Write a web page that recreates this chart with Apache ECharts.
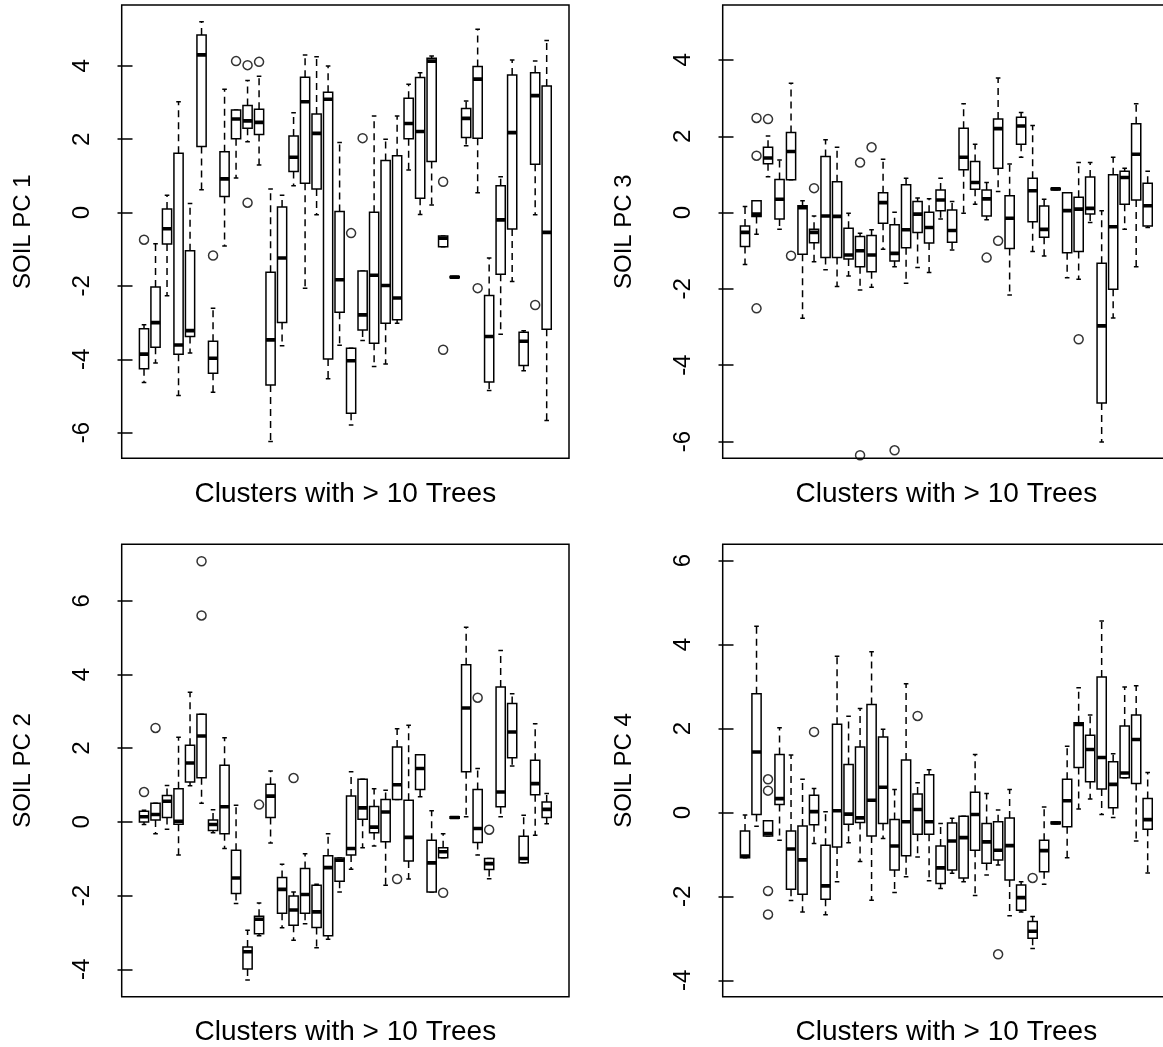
<!DOCTYPE html>
<html><head><meta charset="utf-8">
<script src="https://cdn.jsdelivr.net/npm/echarts@6/dist/echarts.min.js"></script>
<style>html,body{margin:0;padding:0;background:#fff}#c{width:1163px;height:1047px}</style>
</head><body><div id="c"></div>
<script>
// ---------- data ----------
const clusters = [1,2,3,4,5,6,7,8,9,10,11,12,13,14,15,16,17,18,19,20,21,22,23,24,25,26,27,28,29,30,31,32,33,34,35,36];

// SOIL PC 1 (top-left)
const pc1Low = [-4.63,-4.10,-2.27,-4.99,-3.83,0.62,-4.90,-0.91,0.94,1.93,1.30,-6.24,-3.63,0.73,-2.06,-0.06,-4.53,-3.62,-5.79,-3.49,-4.20,-4.13,-3.02,1.16,-0.05,0.21,-0.93,-1.78,1.82,0.54,-4.85,-3.32,-1.88,-4.31,-0.06,-5.67];
const pc1Q1  = [-4.26,-3.67,-0.86,-3.86,-3.38,1.80,-4.38,0.44,2.01,2.30,2.13,-4.70,-3.00,1.12,0.80,0.64,-3.99,-2.72,-5.47,-3.20,-3.56,-3.02,-2.92,2.01,0.39,1.39,-0.93,-1.78,2.05,2.03,-4.62,-1.68,-0.45,-4.17,1.32,-3.18];
const pc1Med = [-3.86,-3.00,-0.44,-3.61,-3.22,4.30,-3.97,0.92,2.55,2.50,2.46,-3.47,-1.24,1.51,3.02,2.16,3.09,-1.83,-4.04,-2.79,-1.71,-1.99,-2.33,2.43,2.21,4.13,-0.70,-1.76,2.57,3.64,-3.38,-0.20,2.18,-3.51,3.19,-0.54];
const pc1Q3  = [-3.17,-2.03,0.10,1.62,-1.04,4.84,-3.51,1.66,2.80,2.92,2.82,-1.63,0.15,2.09,3.69,2.69,3.28,0.03,-3.70,-1.59,0.01,1.42,1.55,3.12,3.68,4.21,-0.64,-1.74,2.84,3.98,-2.26,0.73,3.75,-3.26,3.81,3.45];
const pc1High = [-3.06,-0.85,0.47,3.02,0.25,5.20,-2.61,3.36,2.80,3.60,3.72,0.64,0.47,2.72,4.30,4.25,4.00,1.91,-3.70,-1.59,2.63,2.00,2.63,3.50,3.81,4.27,-0.64,-1.74,3.04,5.00,-1.24,0.98,4.16,-3.22,4.13,4.69];
const pc1OutCluster = [1,7,9,10,10,11,19,20,27,27,30,35];
const pc1OutValue   = [-0.74,-1.17,4.13,4.02,0.27,4.11,-0.56,2.03,0.84,-3.74,-2.06,-2.52];

// SOIL PC 3 (top-right)
const pc3Low = [-1.36,-0.57,0.94,-0.44,0.86,-2.77,-1.29,-1.50,-1.94,-1.66,-2.03,-1.96,-0.96,-1.42,-1.85,-1.44,-1.57,-0.17,-0.98,-0.02,0.22,-0.19,0.55,-2.16,1.45,-1.02,-1.14,0.60,-1.71,-1.75,-0.26,-6.01,-2.76,-0.44,-1.42,-0.39];
const pc3Q1  = [-0.89,-0.10,1.28,-0.17,0.86,-1.09,-0.79,-1.18,-1.18,-1.22,-1.42,-1.55,-0.28,-1.27,-0.92,-0.52,-0.80,0.05,-0.78,1.12,0.61,-0.09,1.16,-0.94,1.79,-0.24,-0.65,0.60,-1.05,-1.02,-0.04,-4.99,-2.01,0.22,0.33,-0.35];
const pc3Med = [-0.52,-0.04,1.43,0.35,1.60,0.13,-0.52,-0.09,-0.10,-1.11,-1.00,-1.11,0.26,-1.07,-0.45,-0.04,-0.39,0.33,-0.47,1.45,0.79,0.36,2.20,-0.15,2.27,0.57,-0.44,0.62,0.05,0.09,0.11,-2.97,-0.37,0.92,1.53,0.18];
const pc3Q3  = [-0.35,0.31,1.71,0.87,2.10,0.18,-0.44,1.47,0.81,-0.41,-0.63,-0.60,0.52,-0.32,0.73,0.29,0.01,0.59,0.07,2.21,1.34,0.59,2.45,0.44,2.50,0.90,0.17,0.64,0.52,0.40,0.93,-1.33,0.99,1.08,2.33,0.77];
const pc3High = [0.16,0.31,2.01,1.38,3.39,0.31,-0.09,1.91,1.71,-0.02,-0.54,-0.45,1.40,0.01,0.90,0.38,0.36,0.90,0.29,2.85,1.79,0.79,3.53,1.27,2.62,2.28,0.35,0.64,0.52,1.31,1.31,0.05,1.45,1.16,2.85,1.08];
const pc3OutCluster = [2,2,2,3,5,7,11,11,12,14,22,23,30];
const pc3OutValue   = [2.48,1.49,-2.51,2.45,-1.13,0.64,1.31,-6.36,1.71,-6.23,-1.18,-0.74,-3.32];

// SOIL PC 2 (bottom-left)
const pc2Low = [-0.07,-0.32,-0.20,-0.90,0.98,0.51,-0.29,-0.72,-2.21,-4.29,-3.09,-0.57,-2.87,-3.21,-2.76,-3.41,-3.18,-1.90,-1.28,-0.70,-0.65,-1.72,0.61,-1.55,0.68,-1.90,-0.97,0.10,0.14,-0.90,-1.54,0.14,1.52,-1.11,-0.36,-0.05];
const pc2Q1  = [0.00,0.05,0.12,-0.06,1.08,1.20,-0.23,-0.32,-1.94,-3.99,-3.03,0.12,-2.48,-2.80,-2.48,-2.86,-3.09,-1.61,-0.90,0.07,-0.29,-0.54,0.61,-1.06,0.88,-1.90,-0.97,0.10,1.36,-0.56,-1.29,0.41,1.74,-1.11,0.74,0.12];
const pc2Med = [0.14,0.20,0.56,0.02,1.60,2.33,-0.07,0.41,-1.52,-3.52,-2.64,0.70,-1.83,-2.39,-1.97,-2.44,-1.24,-1.04,-0.72,0.38,-0.14,0.27,1.01,-0.42,1.45,-1.11,-0.81,0.12,3.09,-0.18,-1.13,0.81,2.44,-0.99,1.04,0.34];
const pc2Q3  = [0.29,0.51,0.72,0.90,2.08,2.92,0.05,1.54,-0.77,-3.39,-2.56,1.02,-1.51,-2.01,-1.26,-1.72,-0.92,-0.98,0.70,1.16,0.42,0.61,2.03,0.59,1.82,-0.50,-0.70,0.14,4.26,0.88,-0.99,3.66,3.21,-0.39,1.67,0.54];
const pc2High = [0.32,0.51,0.99,2.30,3.52,2.92,0.33,2.28,0.45,-2.94,-2.20,1.38,-1.15,-1.90,-0.86,-1.69,-0.32,-0.98,1.36,1.16,0.90,0.86,2.53,2.62,1.82,0.30,-0.32,0.14,5.28,1.45,-0.99,4.65,3.48,0.18,2.66,0.77];
const pc2OutCluster = [1,2,6,6,11,14,23,27,30,31];
const pc2OutValue   = [0.81,2.55,7.07,5.60,0.47,1.19,-1.55,-1.92,3.37,-0.21];

// SOIL PC 4 (bottom-right)
const pc4Low = [-1.08,-0.33,-0.56,-0.66,-2.10,-2.37,-0.74,-2.44,-1.65,-0.72,-1.17,-2.09,-0.62,-1.91,-1.53,-1.06,-1.63,-1.81,-1.45,-1.65,-1.98,-1.49,-1.25,-2.46,-2.37,-3.24,-1.71,-0.27,-1.08,0.08,0.32,-0.05,-0.12,0.83,-0.68,-1.44];
const pc4Q1  = [-1.08,-0.05,-0.56,0.19,-1.83,-1.95,-0.29,-2.07,-0.82,-0.28,-0.24,-0.56,-0.26,-1.37,-1.03,-0.52,-0.52,-1.69,-1.37,-1.56,-0.90,-1.21,-1.13,-1.61,-2.33,-3.00,-1.41,-0.27,-0.34,1.07,0.73,0.56,0.11,0.83,0.69,-0.40];
const pc4Med = [-1.04,1.44,-0.50,0.33,-0.87,-1.13,0.02,-1.75,0.04,-0.04,-0.13,0.29,0.60,-0.80,-0.22,0.07,-0.22,-1.32,-0.68,-0.60,-0.05,-0.70,-0.90,-0.79,-2.03,-2.83,-0.91,-0.25,0.28,2.10,1.50,1.31,0.67,0.94,1.74,-0.17];
const pc4Q3  = [-0.44,2.83,-0.20,1.38,-0.44,-0.32,0.41,-0.78,2.10,1.14,1.56,2.57,1.80,-0.17,1.25,0.44,0.90,-0.80,-0.25,-0.09,0.48,-0.26,-0.22,-0.13,-1.73,-2.60,-0.66,-0.23,0.79,2.14,1.84,3.23,1.21,2.06,2.32,0.33];
const pc4High = [-0.06,4.44,-0.20,2.02,1.37,0.79,0.57,0.02,3.72,2.29,2.48,3.83,1.98,0.55,3.07,0.71,1.02,-0.26,-0.14,-0.09,1.38,0.45,0.06,0.55,-1.65,-2.48,0.13,-0.23,1.58,2.97,2.32,4.56,1.40,2.99,3.02,0.95];
const pc4OutCluster = [3,3,3,3,7,16,23,26];
const pc4OutValue   = [0.79,0.52,-1.87,-2.43,1.92,2.30,-3.38,-1.56];

const pc1Ticks = [-6,-4,-2,0,2,4];
const pc3Ticks = [-6,-4,-2,0,2,4];
const pc2Ticks = [-4,-2,0,2,4,6];
const pc4Ticks = [-4,-2,0,2,4,6];
const xTitle = 'Clusters with > 10 Trees';

// ---------- build ----------
function boxData(lo, q1, md, q3, hi) {
  return clusters.map((c, i) => [c, lo[i], q1[i], md[i], q3[i], hi[i]]);
}
function outData(cl, v) { return cl.map((c, i) => [c, v[i]]); }

const FONT = 'Liberation Sans, Arial, Helvetica, sans-serif';

function renderBox(params, api) {
  const x = api.value(0);
  const lo = api.coord([x, api.value(1)]);
  const q1 = api.coord([x, api.value(2)]);
  const md = api.coord([x, api.value(3)]);
  const q3 = api.coord([x, api.value(4)]);
  const hi = api.coord([x, api.value(5)]);
  const hw = api.size([0.4, 0])[0];
  const sw = hw * 0.5;
  const cx = md[0];
  const lw = 1.5;
  const dash = { stroke: '#000', lineWidth: lw, lineDash: [7, 5], fill: null };
  const solid = { stroke: '#000', lineWidth: lw, fill: null };
  return {
    type: 'group',
    children: [
      { type: 'line', shape: { x1: cx, y1: q3[1], x2: cx, y2: hi[1] }, style: dash },
      { type: 'line', shape: { x1: cx, y1: q1[1], x2: cx, y2: lo[1] }, style: dash },
      { type: 'line', shape: { x1: cx - sw, y1: hi[1], x2: cx + sw, y2: hi[1] }, style: solid },
      { type: 'line', shape: { x1: cx - sw, y1: lo[1], x2: cx + sw, y2: lo[1] }, style: solid },
      { type: 'rect', shape: { x: cx - hw, y: q3[1], width: 2 * hw, height: q1[1] - q3[1] },
        style: { fill: '#fff', stroke: '#000', lineWidth: lw } },
      { type: 'line', shape: { x1: cx - hw, y1: md[1], x2: cx + hw, y2: md[1] },
        style: { stroke: '#000', lineWidth: 3.6 } }
    ]
  };
}

const panels = [
  { grid: { left: 121.7, top: 5, width: 447.3, height: 453.3 }, min: -6.70, max: 5.66, ticks: pc1Ticks, name: 'SOIL PC 1',
    box: boxData(pc1Low, pc1Q1, pc1Med, pc1Q3, pc1High), out: outData(pc1OutCluster, pc1OutValue) },
  { grid: { left: 722.7, top: 5, width: 447.3, height: 453.3 }, min: -6.44, max: 5.44, ticks: pc3Ticks, name: 'SOIL PC 3',
    box: boxData(pc3Low, pc3Q1, pc3Med, pc3Q3, pc3High), out: outData(pc3OutCluster, pc3OutValue) },
  { grid: { left: 121.7, top: 544.3, width: 447.3, height: 452.4 }, min: -4.74, max: 7.53, ticks: pc2Ticks, name: 'SOIL PC 2',
    box: boxData(pc2Low, pc2Q1, pc2Med, pc2Q3, pc2High), out: outData(pc2OutCluster, pc2OutValue) },
  { grid: { left: 722.7, top: 544.3, width: 447.3, height: 452.4 }, min: -4.39, max: 6.39, ticks: pc4Ticks, name: 'SOIL PC 4',
    box: boxData(pc4Low, pc4Q1, pc4Med, pc4Q3, pc4High), out: outData(pc4OutCluster, pc4OutValue) }
];

const option = {
  animation: false,
  backgroundColor: '#fff',
  grid: panels.map(p => Object.assign({ show: true, borderColor: '#000', borderWidth: 1.5,
    backgroundColor: 'transparent', containLabel: false, outerBoundsMode: 'none' }, p.grid)),
  xAxis: panels.map((p, k) => ({
    gridIndex: k, type: 'value', min: -0.94, max: 37.94,
    axisLine: { show: false }, axisTick: { show: false }, axisLabel: { show: false }, splitLine: { show: false },
    name: xTitle, nameLocation: 'middle', nameGap: 22,
    nameTextStyle: { fontSize: 28, color: '#000', fontFamily: FONT }
  })),
  yAxis: panels.map((p, k) => ({
    gridIndex: k, type: 'value', min: p.min, max: p.max,
    axisLine: { show: false }, splitLine: { show: false },
    axisTick: { show: true, length: 15, customValues: p.ticks, lineStyle: { color: '#000', width: 1.5 } },
    axisLabel: { show: true, rotate: 90, margin: 27, fontSize: 24, color: '#000', fontFamily: FONT,
      customValues: p.ticks, formatter: v => String(v) },
    name: p.name, nameLocation: 'middle', nameRotate: 90, nameGap: 86,
    nameTextStyle: { fontSize: 24, color: '#000', fontFamily: FONT }
  })),
  series: panels.flatMap((p, k) => [
    { type: 'custom', xAxisIndex: k, yAxisIndex: k, clip: true, renderItem: renderBox,
      encode: { x: 0, y: [1, 2, 3, 4, 5] }, data: p.box, silent: true },
    { type: 'scatter', xAxisIndex: k, yAxisIndex: k, clip: true, symbol: 'circle', symbolSize: 9,
      itemStyle: { color: 'rgba(0,0,0,0)', borderColor: '#000', borderWidth: 1.5 }, data: p.out, silent: true }
  ])
};

const chart = echarts.init(document.getElementById('c'), null, { renderer: 'canvas' });
chart.setOption(option);
</script>
</body></html>
